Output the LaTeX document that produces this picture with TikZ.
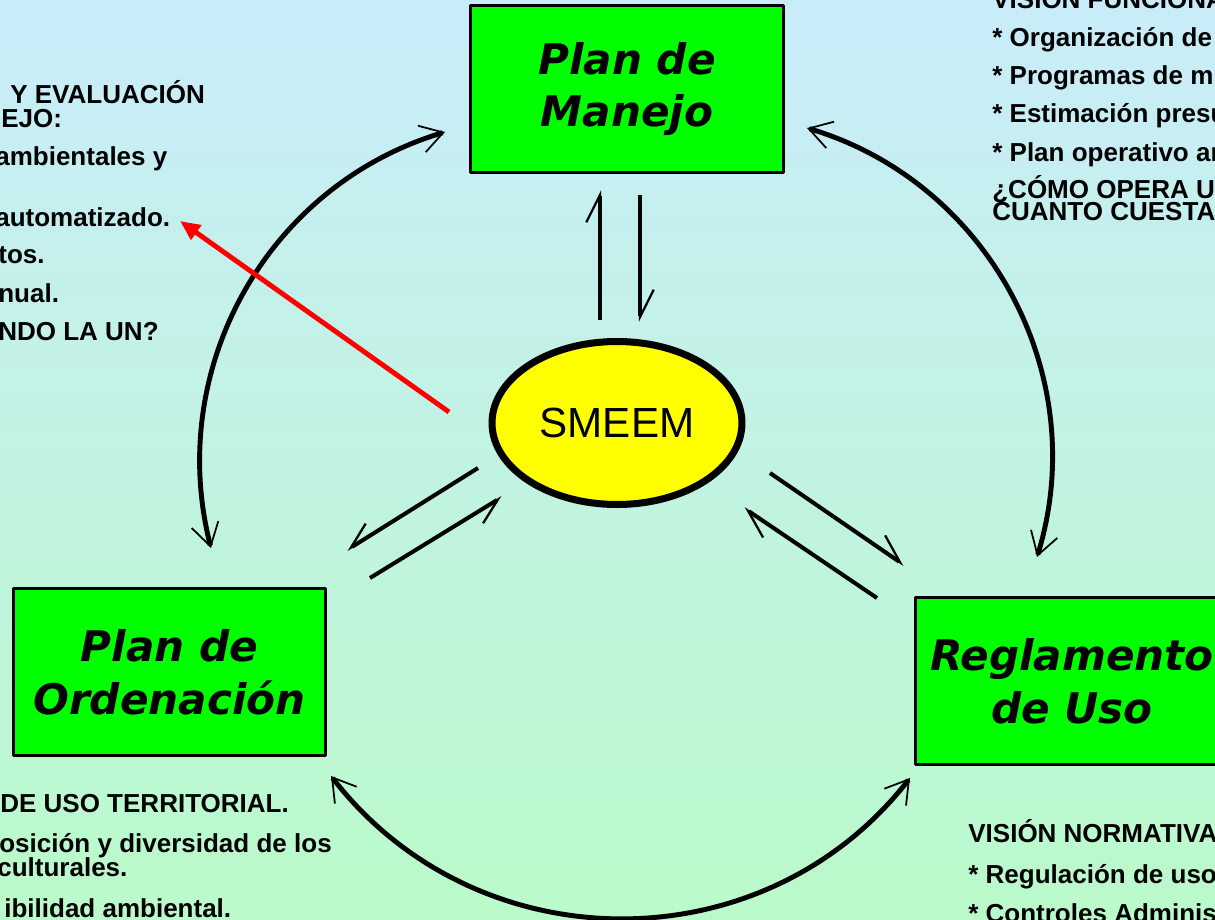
\documentclass[tikz,border=0pt]{standalone}
\usepackage{fontspec}
\setmainfont{Liberation Sans}
\newfontfamily\boxfont{DejaVu Sans}
\usetikzlibrary{arrows.meta,shapes.geometric}

\definecolor{bgtop}{RGB}{201,236,250}
\definecolor{bgbottom}{RGB}{186,250,202}
\definecolor{boxgreen}{RGB}{0,255,0}
\definecolor{smeemyellow}{RGB}{255,255,0}

\tikzset{
  planbox/.style={draw=black,line width=1.7pt,fill=boxgreen,minimum width=6.26cm,
    minimum height=3.34cm,inner sep=0pt,align=center,
    font=\boxfont\bfseries\itshape\fontsize{24}{30}\selectfont},
  txt/.style={anchor=base west,inner sep=0pt,font=\bfseries\fontsize{14.8}{17}\selectfont},
  arcbarb/.tip={Straight Barb[length=0.45cm,width=0.55cm,line width=1pt]},
  arcarrow/.style={line width=2.8pt,arcbarb-arcbarb},
  harp/.style={line width=2.6pt,-{Straight Barb[harpoon,length=0.55cm,width=0.55cm,line width=1.3pt]}},
  harpswap/.style={line width=2.3pt,-{Straight Barb[harpoon,swap,length=0.5cm,width=0.5cm,line width=1.3pt]}}
}

\begin{document}
\begin{tikzpicture}[x=0.02cm,y=-0.02cm,line join=round]
% slide background
\useasboundingbox (0,0) rectangle (1215,920);
\shade[top color=bgtop,bottom color=bgbottom] (0,0) rectangle (1215,920);
\clip (0,0) rectangle (1215,920);

% the three plans
\node[planbox] (manejo) at (627,89) {Plan de\\Manejo};
\node[planbox] (ordenacion) at (169.5,672) {Plan de\\Ordenación};
\node[planbox] (reglamento) at (1072,681) {Reglamento\\de Uso};

% SMEEM in the middle
\node[ellipse,draw=black,line width=4pt,fill=smeemyellow,minimum width=5cm,
  minimum height=3.26cm,inner sep=0pt,font=\fontsize{24}{28}\selectfont] (smeem) at (617,423) {SMEEM};

% arrow end points
\coordinate (up1) at (600,320);
\coordinate (up2) at (600,190);
\coordinate (dn1) at (640,195);
\coordinate (dn2) at (640,322);
\coordinate (ll1) at (478,468);
\coordinate (ll2) at (347,550);
\coordinate (lu1) at (370,578);
\coordinate (lu2) at (502,497);
\coordinate (rl1) at (770,473);
\coordinate (rl2) at (904,565);
\coordinate (ru1) at (877,598);
\coordinate (ru2) at (744,508);
\coordinate (red1) at (449,412);
\coordinate (red2) at (180,221);

% arc end points
\coordinate (tl1) at (445,132);
\coordinate (tl2) at (211,548);
\coordinate (tr1) at (807,128);
\coordinate (tr2) at (1037,557);
\coordinate (bo1) at (331,776);
\coordinate (bo2) at (910,778);

% arcs round the plans
\draw[arcarrow] (tl1) .. controls (267,185) and (165,369) .. (tl2);
\draw[arcarrow] (tr1) .. controls (989,182) and (1093,376) .. (tr2);
\draw[arcarrow] (bo1) .. controls (477,965) and (764,966) .. (bo2);

% arrows to and from SMEEM
\draw[harp] (up1) -- (up2);
\draw[harp] (dn1) -- (dn2);
\draw[harpswap] (ll1) -- (ll2);
\draw[harpswap] (lu1) -- (lu2);
\draw[harp,line width=2.3pt] (rl1) -- (rl2);
\draw[harp,line width=2.3pt] (ru1) -- (ru2);

% red pointer
\draw[red,line width=2.8pt,-{Triangle[length=0.4cm,width=0.34cm]}] (red1) -- (red2);

% text, upper left
\node[txt] (l1) at (10,103) {Y EVALUACIÓN};
\node[txt] (l2) at (1,127) {EJO:};
\node[txt] (l3) at (-5,165) {ambientales y};
\node[txt] (l4) at (-5,226) {automatizado.};
\node[txt] (l5) at (-2,263) {tos.};
\node[txt] (l6) at (-2,302) {nual.};
\node[txt] (l7) at (-2,340) {NDO LA UN?};

% text, upper right
\node[txt] (r1) at (992,8) {VISIÓN FUNCIONA};
\node[txt] (r2) at (992,46) {* Organización de};
\node[txt] (r3) at (992,84) {* Programas de m};
\node[txt] (r4) at (992,122) {* Estimación presu};
\node[txt] (r5) at (992,161) {* Plan operativo an};
\node[txt] (r6) at (992,198) {¿CÓMO OPERA U};
\node[txt] (r7) at (992,220) {CUANTO CUESTA};

% text, lower left
\node[txt] (b1) at (0,812) {DE USO TERRITORIAL.};
\node[txt] (b2) at (-1,852) {osición y diversidad de los};
\node[txt] (b3) at (-3,876) {culturales.};
\node[txt] (b4) at (4,917) {ibilidad ambiental.};

% text, lower right
\node[txt] (n1) at (968,842) {VISIÓN NORMATIVA};
\node[txt] (n2) at (968,883) {* Regulación de uso};
\node[txt] (n3) at (968,922) {* Controles Adminis};

\end{tikzpicture}
\end{document}
